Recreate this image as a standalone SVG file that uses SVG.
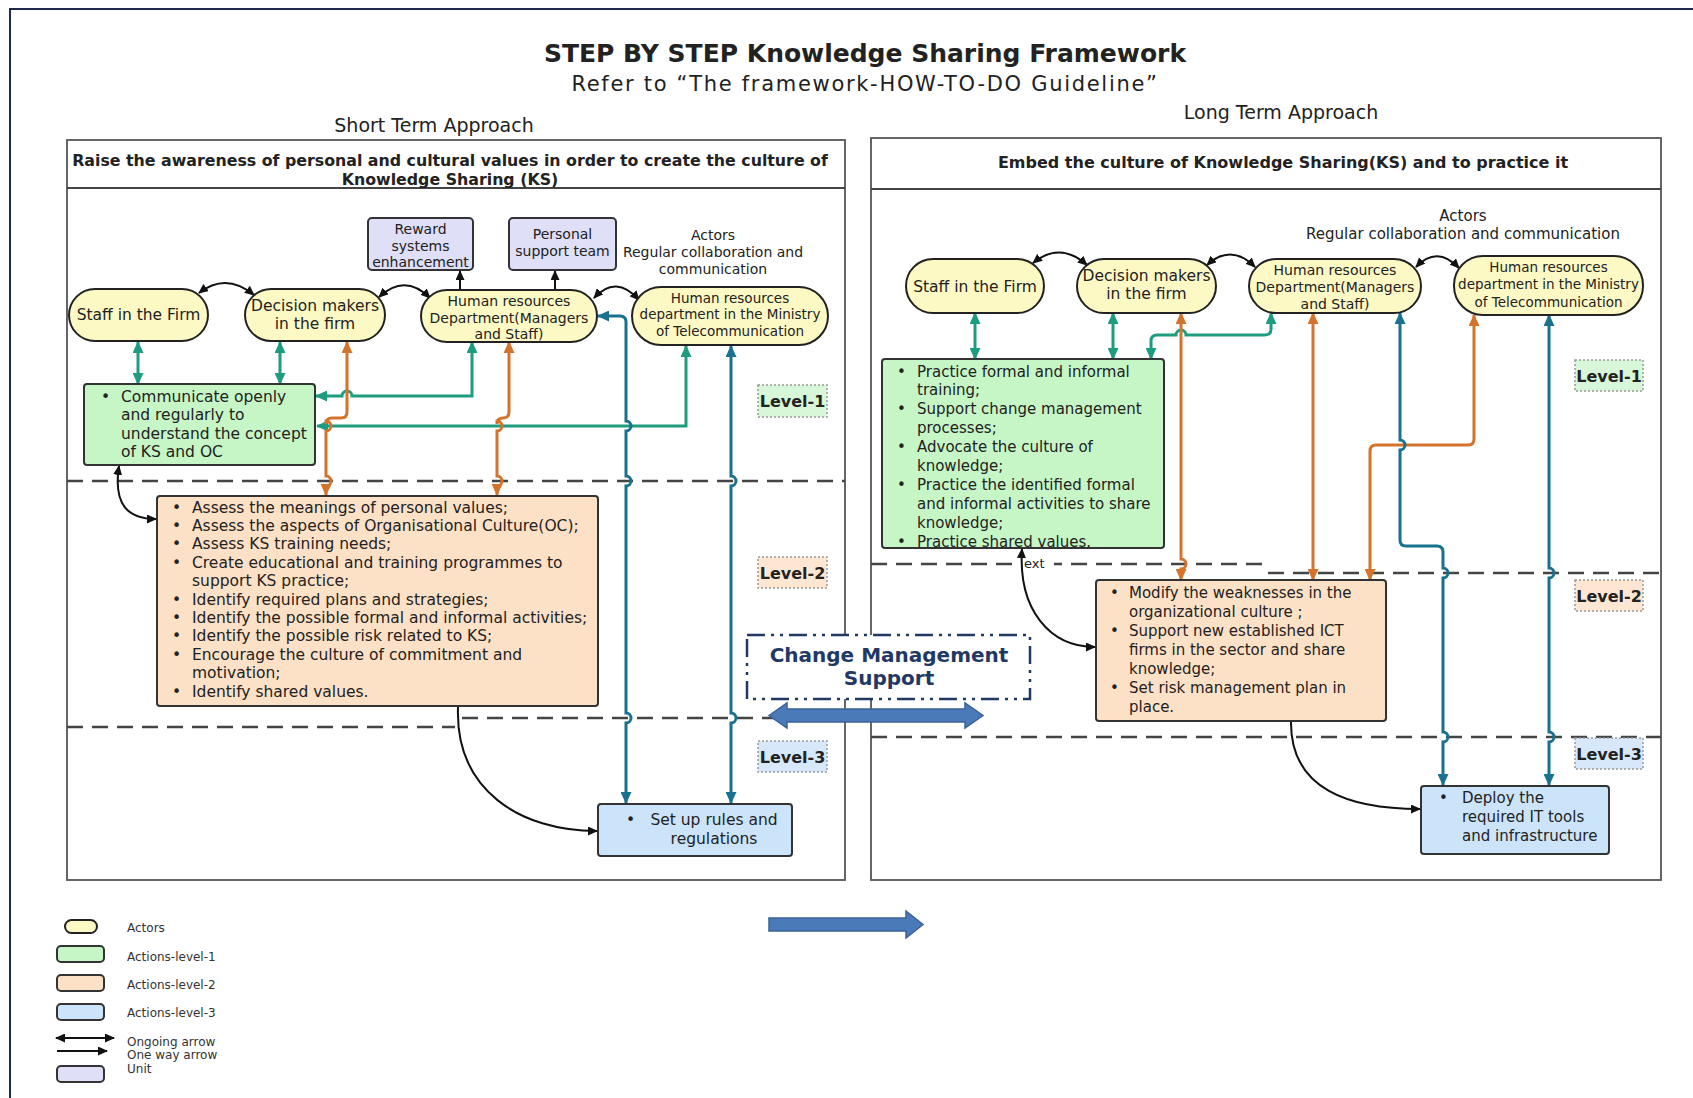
<svg xmlns="http://www.w3.org/2000/svg" width="1693" height="1098" viewBox="0 0 1693 1098">
<defs>
<style>
text{font-family:"DejaVu Sans","Liberation Sans",sans-serif;fill:#222}
.c{text-anchor:middle}
.b{font-weight:bold}
.f155{font-size:15.5px}
.f15{font-size:15px}
.f14{font-size:14px}
.f135{font-size:13.5px}
.actor{fill:#fdf9c4;stroke:#222;stroke-width:2}
.unit{fill:#dfdff8;stroke:#333;stroke-width:2}
.l1{fill:#c6f6c6;stroke:#333;stroke-width:2}
.l2{fill:#fde1c6;stroke:#333;stroke-width:2}
.l3{fill:#cce4fa;stroke:#333;stroke-width:2}
.panel{fill:none;stroke:#555;stroke-width:1.8}
.dash{fill:none;stroke:#444;stroke-width:2.5;stroke-dasharray:16 9}
.lvl{stroke:#999;stroke-width:1.5;stroke-dasharray:2 2}
.cg{fill:none;stroke:#1e9c7f;stroke-width:3;marker-start:url(#mg);marker-end:url(#mg)}
.co{fill:none;stroke:#d4732b;stroke-width:3;marker-start:url(#mo);marker-end:url(#mo)}
.cb{fill:none;stroke:#18728f;stroke-width:3;marker-start:url(#mb);marker-end:url(#mb)}
.ck{fill:none;stroke:#111;stroke-width:2}
.k2{marker-start:url(#mk);marker-end:url(#mk)}
.k1{marker-end:url(#mk)}
.blk{fill:#4a7ab8;stroke:#3b6396;stroke-width:1.5}
</style>
<marker id="mg" viewBox="0 0 12 11" refX="11" refY="5.5" markerWidth="12" markerHeight="11" orient="auto-start-reverse" markerUnits="userSpaceOnUse"><path d="M0,0 L12,5.5 L0,11 z" fill="#1e9c7f"/></marker>
<marker id="mo" viewBox="0 0 12 11" refX="11" refY="5.5" markerWidth="12" markerHeight="11" orient="auto-start-reverse" markerUnits="userSpaceOnUse"><path d="M0,0 L12,5.5 L0,11 z" fill="#d4732b"/></marker>
<marker id="mb" viewBox="0 0 12 11" refX="11" refY="5.5" markerWidth="12" markerHeight="11" orient="auto-start-reverse" markerUnits="userSpaceOnUse"><path d="M0,0 L12,5.5 L0,11 z" fill="#18728f"/></marker>
<marker id="mk" viewBox="0 0 10 9" refX="9" refY="4.5" markerWidth="10" markerHeight="9" orient="auto-start-reverse" markerUnits="userSpaceOnUse"><path d="M0,0 L10,4.5 L0,9 z" fill="#111"/></marker>
</defs>
<rect width="1693" height="1098" fill="#fff"/>
<path d="M10,1098 V9 H1693" fill="none" stroke="#1c2a48" stroke-width="2"/>

<g id="titles">
<text x="865" y="62" class="c b" style="font-size:25px">STEP BY STEP Knowledge Sharing Framework</text>
<text x="865" y="91" class="c" style="font-size:21px;letter-spacing:1.7px">Refer to “The framework-HOW-TO-DO Guideline”</text>
<text x="434" y="132" class="c" style="font-size:19px">Short Term Approach</text>
<text x="1281" y="119" class="c" style="font-size:19px">Long Term Approach</text>
</g>

<g id="panel-left">
<rect x="67" y="140" width="778" height="740" class="panel"/>
<line x1="67" y1="188" x2="845" y2="188" stroke="#444" stroke-width="2"/>
<text x="450" y="166" class="c b" style="font-size:15.8px">Raise the awareness of personal and cultural values in order to create the culture of</text>
<text x="450" y="185" class="c b" style="font-size:15.8px">Knowledge Sharing (KS)</text>
</g>
<g id="panel-right">
<rect x="871" y="138" width="790" height="742" class="panel"/>
<line x1="871" y1="189" x2="1661" y2="189" stroke="#444" stroke-width="2"/>
<text x="1283" y="168" class="c b" style="font-size:16px">Embed the culture of Knowledge Sharing(KS) and to practice it</text>
</g>

<g id="level-lines">
<path d="M67,481 H845" class="dash"/>
<path d="M67,727 H455" class="dash"/>
<path d="M462,718 H845" class="dash"/>
<path d="M871,564 H1268" class="dash"/>
<path d="M1268,573 H1661" class="dash"/>
<path d="M871,737 H1661" class="dash"/>
<rect x="1012" y="555" width="42" height="16" fill="#fff"/>
<text x="1024" y="568" style="font-size:13px">ext</text>
</g>

<g id="actors-label-left">
<text x="713" y="240" class="c f14">Actors</text>
<text x="713" y="257" class="c f14">Regular collaboration and</text>
<text x="713" y="274" class="c f14">communication</text>
</g>
<g id="actors-label-right">
<text x="1463" y="220.5" class="c f15">Actors</text>
<text x="1463" y="238.5" class="c f15">Regular collaboration and communication</text>
</g>

<g id="connectors">
<path d="M199,293 Q226,272 254,295" class="ck k2"/>
<path d="M379,297 Q405,273 430,298" class="ck k2"/>
<path d="M594,298 Q616,274 639,300" class="ck k2"/>
<path d="M460,290 V271" class="ck k1"/>
<path d="M555,290 V271" class="ck k1"/>
<path d="M138,342 V384" class="cg"/>
<path d="M280,342 V384" class="cg"/>
<path d="M472,342 V396 H352 a5,5 0 0 0 -10,0 H316" class="cg"/>
<path d="M686,346 V426 H317" class="cg"/>
<path d="M347,342 V412 Q347,418 341,418 H332 Q326,418 326,424 V421 a5,5 0 0 1 0,10 V476 a5,5 0 0 1 0,10 V495" class="co"/>
<path d="M509,342 V412 Q509,418 503,418 Q497,418 497,424 V421 a5,5 0 0 1 0,10 V476 a5,5 0 0 1 0,10 V495" class="co"/>
<path d="M598,316 H620 Q626,316 626,322 V421 a5,5 0 0 1 0,10 V476 a5,5 0 0 1 0,10 V713 a5,5 0 0 1 0,10 V803" class="cb"/>
<path d="M731,346 V476 a5,5 0 0 1 0,10 V713 a5,5 0 0 1 0,10 V803" class="cb"/>
<path d="M119,466 C113,505 128,519 156,519" class="ck k2"/>
<path d="M458,707 C455,790 520,831 597,831" class="ck k1"/>
<path d="M1033,263 Q1060,241 1087,265" class="ck k2"/>
<path d="M1207,265 Q1231,243 1255,267" class="ck k2"/>
<path d="M1416,267 Q1437,245 1459,268" class="ck k2"/>
<path d="M975,313 V359" class="cg"/>
<path d="M1113,313 V359" class="cg"/>
<path d="M1271,313 V329 Q1271,335 1265,335 H1186 a5,5 0 0 0 -10,0 H1157 Q1151,335 1151,341 V359" class="cg"/>
<path d="M1181,313 V559 a5,5 0 0 1 0,10 V580" class="co"/>
<path d="M1313,313 V580" class="co"/>
<path d="M1474,315 V439 Q1474,445 1468,445 H1376 Q1370,445 1370,451 V580" class="co"/>
<path d="M1400,313 V440 a5,5 0 0 1 0,10 V540 Q1400,546 1406,546 H1437 Q1443,546 1443,552 V568 a5,5 0 0 1 0,10 V732 a5,5 0 0 1 0,10 V785" class="cb"/>
<path d="M1549,315 V568 a5,5 0 0 1 0,10 V732 a5,5 0 0 1 0,10 V785" class="cb"/>
<path d="M1022,549 C1018,610 1050,647 1095,647" class="ck k2"/>
<path d="M1291,721 C1290,790 1350,809 1420,809" class="ck k1"/>
</g>

<g id="l-staff"><rect x="69" y="289" width="139" height="52" rx="26" class="actor"/><text x="138.5" y="319.5" class="c f155">Staff in the Firm</text></g>
<g id="l-decision"><rect x="245" y="289" width="140" height="52" rx="26" class="actor"/><text x="315" y="310.5" class="c f155">Decision makers</text><text x="315" y="328.5" class="c f155">in the firm</text></g>
<g id="l-hrd"><rect x="421" y="290" width="176" height="52" rx="26" class="actor"/><text x="509" y="306" class="c f14">Human resources</text><text x="509" y="323" class="c f14">Department(Managers</text><text x="509" y="339" class="c f14">and Staff)</text></g>
<g id="l-ministry"><rect x="632" y="287" width="196" height="58" rx="29" class="actor"/><text x="730" y="303" class="c f135">Human resources</text><text x="730" y="319" class="c f135">department in the Ministry</text><text x="730" y="336" class="c f135">of Telecommunication</text></g>
<g id="l-reward"><rect x="368" y="218" width="105" height="52" rx="4" class="unit"/><text x="420.5" y="234" class="c f14">Reward</text><text x="420.5" y="251" class="c f14">systems</text><text x="420.5" y="267" class="c f14">enhancement</text></g>
<g id="l-personal"><rect x="509" y="218" width="107" height="52" rx="4" class="unit"/><text x="562.5" y="239" class="c f14">Personal</text><text x="562.5" y="256" class="c f14">support team</text></g>

<g id="l-level1-action"><rect x="84" y="384" width="231" height="81" rx="3" class="l1"/>
<text class="f155"><tspan x="101" y="401.5">•</tspan><tspan x="121" y="401.5">Communicate openly</tspan><tspan x="121" y="420">and regularly to</tspan><tspan x="121" y="438.5">understand the concept</tspan><tspan x="121" y="457">of KS and OC</tspan></text></g>

<g id="l-level2-action"><rect x="157" y="496" width="441" height="210" rx="3" class="l2"/>
<text class="f155">
<tspan x="172" y="512.5">•</tspan><tspan x="192" y="512.5">Assess the meanings of personal values;</tspan>
<tspan x="172" y="530.9">•</tspan><tspan x="192" y="530.9">Assess the aspects of Organisational Culture(OC);</tspan>
<tspan x="172" y="549.3">•</tspan><tspan x="192" y="549.3">Assess KS training needs;</tspan>
<tspan x="172" y="567.7">•</tspan><tspan x="192" y="567.7">Create educational and training programmes to</tspan>
<tspan x="192" y="586.1">support KS practice;</tspan>
<tspan x="172" y="604.5">•</tspan><tspan x="192" y="604.5">Identify required plans and strategies;</tspan>
<tspan x="172" y="622.9">•</tspan><tspan x="192" y="622.9">Identify the possible formal and informal activities;</tspan>
<tspan x="172" y="641.3">•</tspan><tspan x="192" y="641.3">Identify the possible risk related to KS;</tspan>
<tspan x="172" y="659.7">•</tspan><tspan x="192" y="659.7">Encourage the culture of commitment and</tspan>
<tspan x="192" y="678.1">motivation;</tspan>
<tspan x="172" y="696.5">•</tspan><tspan x="192" y="696.5">Identify shared values.</tspan>
</text></g>

<g id="l-level3-action"><rect x="598" y="804" width="194" height="52" rx="3" class="l3"/>
<text x="626" y="824.5" class="f155">•</text><text x="714" y="824.5" class="c f155">Set up rules and</text><text x="714" y="843.5" class="c f155">regulations</text></g>

<g id="l-levels">
<rect x="758" y="385" width="69" height="32" fill="#d8f7d8" class="lvl"/><text x="792.5" y="407" class="c b" style="font-size:16px">Level-1</text>
<rect x="758" y="557" width="69" height="31" fill="#fde7d2" class="lvl"/><text x="792.5" y="578.5" class="c b" style="font-size:16px">Level-2</text>
<rect x="758" y="741" width="69" height="31" fill="#d6e8fa" class="lvl"/><text x="792.5" y="762.5" class="c b" style="font-size:16px">Level-3</text>
</g>

<g id="r-staff"><rect x="906" y="259" width="138" height="54" rx="27" class="actor"/><text x="975" y="291.5" class="c f155">Staff in the Firm</text></g>
<g id="r-decision"><rect x="1077" y="259" width="139" height="54" rx="27" class="actor"/><text x="1146.5" y="280.5" class="c f155">Decision makers</text><text x="1146.5" y="298.5" class="c f155">in the firm</text></g>
<g id="r-hrd"><rect x="1249" y="259" width="172" height="54" rx="27" class="actor"/><text x="1335" y="275" class="c f14">Human resources</text><text x="1335" y="292" class="c f14">Department(Managers</text><text x="1335" y="309" class="c f14">and Staff)</text></g>
<g id="r-ministry"><rect x="1454" y="256" width="189" height="59" rx="29" class="actor"/><text x="1548.5" y="272" class="c f135">Human resources</text><text x="1548.5" y="289" class="c f135">department in the Ministry</text><text x="1548.5" y="306.5" class="c f135">of Telecommunication</text></g>

<g id="r-level1-action"><rect x="882" y="359" width="282" height="189" rx="3" class="l1"/>
<text class="f15">
<tspan x="897" y="376.5">•</tspan><tspan x="917" y="376.5">Practice formal and informal</tspan>
<tspan x="917" y="395.4">training;</tspan>
<tspan x="897" y="414.3">•</tspan><tspan x="917" y="414.3">Support change management</tspan>
<tspan x="917" y="433.2">processes;</tspan>
<tspan x="897" y="452.1">•</tspan><tspan x="917" y="452.1">Advocate the culture of</tspan>
<tspan x="917" y="471">knowledge;</tspan>
<tspan x="897" y="489.9">•</tspan><tspan x="917" y="489.9">Practice the identified formal</tspan>
<tspan x="917" y="508.8">and informal activities to share</tspan>
<tspan x="917" y="527.7">knowledge;</tspan>
<tspan x="897" y="546.6">•</tspan><tspan x="917" y="546.6">Practice shared values.</tspan>
</text></g>

<g id="r-level2-action"><rect x="1096" y="580" width="290" height="141" rx="3" class="l2"/>
<text class="f15">
<tspan x="1110" y="597.5">•</tspan><tspan x="1129" y="597.5">Modify the weaknesses in the</tspan>
<tspan x="1129" y="616.5">organizational culture ;</tspan>
<tspan x="1110" y="635.5">•</tspan><tspan x="1129" y="635.5">Support new established ICT</tspan>
<tspan x="1129" y="654.5">firms in the sector and share</tspan>
<tspan x="1129" y="673.5">knowledge;</tspan>
<tspan x="1110" y="692.5">•</tspan><tspan x="1129" y="692.5">Set risk management plan in</tspan>
<tspan x="1129" y="711.5">place.</tspan>
</text></g>

<g id="r-level3-action"><rect x="1421" y="786" width="188" height="68" rx="3" class="l3"/>
<text class="f15"><tspan x="1439" y="802.5">•</tspan><tspan x="1462" y="802.5">Deploy the</tspan><tspan x="1462" y="821.5">required IT tools</tspan><tspan x="1462" y="840.5">and infrastructure</tspan></text></g>

<g id="r-levels">
<rect x="1575" y="360" width="68" height="31" fill="#d8f7d8" class="lvl"/><text x="1609" y="381.5" class="c b" style="font-size:16px">Level-1</text>
<rect x="1575" y="580" width="68" height="31" fill="#fde7d2" class="lvl"/><text x="1609" y="601.5" class="c b" style="font-size:16px">Level-2</text>
<rect x="1575" y="738" width="68" height="31" fill="#d6e8fa" class="lvl"/><text x="1609" y="759.5" class="c b" style="font-size:16px">Level-3</text>
</g>

<g id="change-management">
<rect x="747" y="635" width="283" height="64" fill="#fff" stroke="#1f3864" stroke-width="2.5" stroke-dasharray="18 6 3 6 3 6"/>
<text x="889" y="662" class="c b" style="font-size:20px;fill:#1f3864">Change Management</text>
<text x="889" y="685" class="c b" style="font-size:20px;fill:#1f3864">Support</text>
<polygon points="769,715.5 787,703 787,709 965,709 965,703 983,715.5 965,728 965,722 787,722 787,728" class="blk"/>
</g>
<g id="bottom-arrow">
<polygon points="769,918 906,918 906,911 923,924.5 906,938 906,931 769,931" class="blk"/>
</g>

<g id="legend">
<rect x="65" y="920" width="32" height="13" rx="6.5" class="actor"/>
<rect x="57" y="946" width="47" height="16" rx="4" class="l1"/>
<rect x="57" y="975" width="47" height="16" rx="4" class="l2"/>
<rect x="57" y="1004" width="47" height="16" rx="4" class="l3"/>
<path d="M56,1038 H114" class="ck k2" stroke-width="2.5"/>
<path d="M57,1051 H107" class="ck k1" stroke-width="2.5"/>
<rect x="57" y="1066" width="47" height="16" rx="4" class="unit"/>
<text x="127" y="932" style="font-size:12px;fill:#333">Actors</text>
<text x="127" y="961" style="font-size:12px;fill:#333">Actions-level-1</text>
<text x="127" y="989" style="font-size:12px;fill:#333">Actions-level-2</text>
<text x="127" y="1017" style="font-size:12px;fill:#333">Actions-level-3</text>
<text x="127" y="1046" style="font-size:12px;fill:#333">Ongoing arrow</text>
<text x="127" y="1059" style="font-size:12px;fill:#333">One way arrow</text>
<text x="127" y="1073" style="font-size:12px;fill:#333">Unit</text>
</g>
</svg>
